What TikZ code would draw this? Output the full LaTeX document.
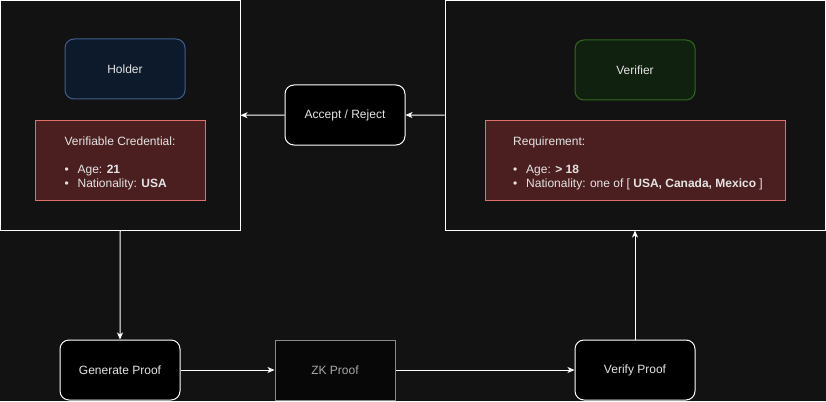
\documentclass[tikz,border=0pt]{standalone}
\usepackage{fontspec}
\setmainfont{Liberation Sans}
\usepackage{tikz}
\usetikzlibrary{arrows.meta,backgrounds}
\definecolor{bgcol}{HTML}{121212}
\definecolor{txtcol}{HTML}{E4E4E4}
\definecolor{holderfill}{HTML}{0C1A2C}
\definecolor{holderline}{HTML}{3F5F8C}
\definecolor{verifierfill}{HTML}{11210F}
\definecolor{verifierline}{HTML}{2F6A20}
\definecolor{credfill}{HTML}{4B1F1F}
\definecolor{credline}{HTML}{E0706A}
\definecolor{zkline}{HTML}{8A8A8A}
\definecolor{zktext}{HTML}{A8A8A8}
\newcommand{\linew}{1pt}
\newcommand{\corner}{9pt}
\newcommand{\bull}{\makebox[13pt][l]{\textbullet}}
\newcommand{\toppad}{\rule{0pt}{15pt}}

\begin{document}
\begin{tikzpicture}[x=1pt,y=-1pt,
  every node/.style={text=txtcol,font=\fontsize{12}{14}\selectfont,line width=\linew,inner sep=0pt},
  arr/.style={draw=white,line width=\linew,-{Stealth[length=7pt,width=6pt,inset=2pt]}}]
\fill[bgcol] (0,0) rectangle (826,401);
\useasboundingbox (0,0) rectangle (826,401);
%containers
\node[draw=white,fill=bgcol,minimum width=239.5pt,minimum height=229.5pt] (holderbox) at (120.25,115.25) {};
\node[draw=white,fill=bgcol,minimum width=380pt,minimum height=229.5pt] (verifierbox) at (635,115.25) {};
%holder
\node[draw=holderline,fill=holderfill,rounded corners=\corner,minimum width=120pt,minimum height=60pt] (holder) at (125,69) {Holder};
\node[draw=credline,fill=credfill,minimum width=170pt,minimum height=80pt,align=left] (cred) at (120,160) {\toppad Verifiable Credential:\\[14pt]\bull Age: \textbf{21}\\\bull Nationality: \textbf{USA}};
%verifier
\node[draw=verifierline,fill=verifierfill,rounded corners=\corner,minimum width=120pt,minimum height=60pt] (verifier) at (635,70) {Verifier};
\node[draw=credline,fill=credfill,minimum width=300pt,minimum height=80pt,align=left] (req) at (635,160) {\hspace*{6pt}\toppad Requirement:\\[14pt]\hspace*{6pt}\bull Age: \textbf{> 18}\\\hspace*{6pt}\bull Nationality: one of [ \textbf{USA, Canada, Mexico} ]};
%middle
\node[draw=white,fill=black,rounded corners=\corner,minimum width=120pt,minimum height=60pt] (accept) at (345,115) {Accept / Reject};
%bottom row
\node[draw=white,fill=black,rounded corners=\corner,minimum width=120pt,minimum height=60pt] (gen) at (120,370) {Generate Proof};
\node[draw=zkline,fill=black!60!bgcol,text=zktext,minimum width=120pt,minimum height=60pt] (zk) at (335,370) {ZK Proof};
\node[draw=white,fill=black,rounded corners=\corner,minimum width=120pt,minimum height=60pt] (verify) at (635,370) {Verify Proof};
%arrows
\draw[arr] (verifierbox.west) -- (accept.east);
\draw[arr] (accept.west) -- (holderbox.east);
\draw[arr] (holderbox.south) -- (gen.north);
\draw[arr] (gen.east) -- (zk.west);
\draw[arr] (zk.east) -- (verify.west);
\draw[arr] (verify.north) -- (verifierbox.south);
\end{tikzpicture}
\end{document}
